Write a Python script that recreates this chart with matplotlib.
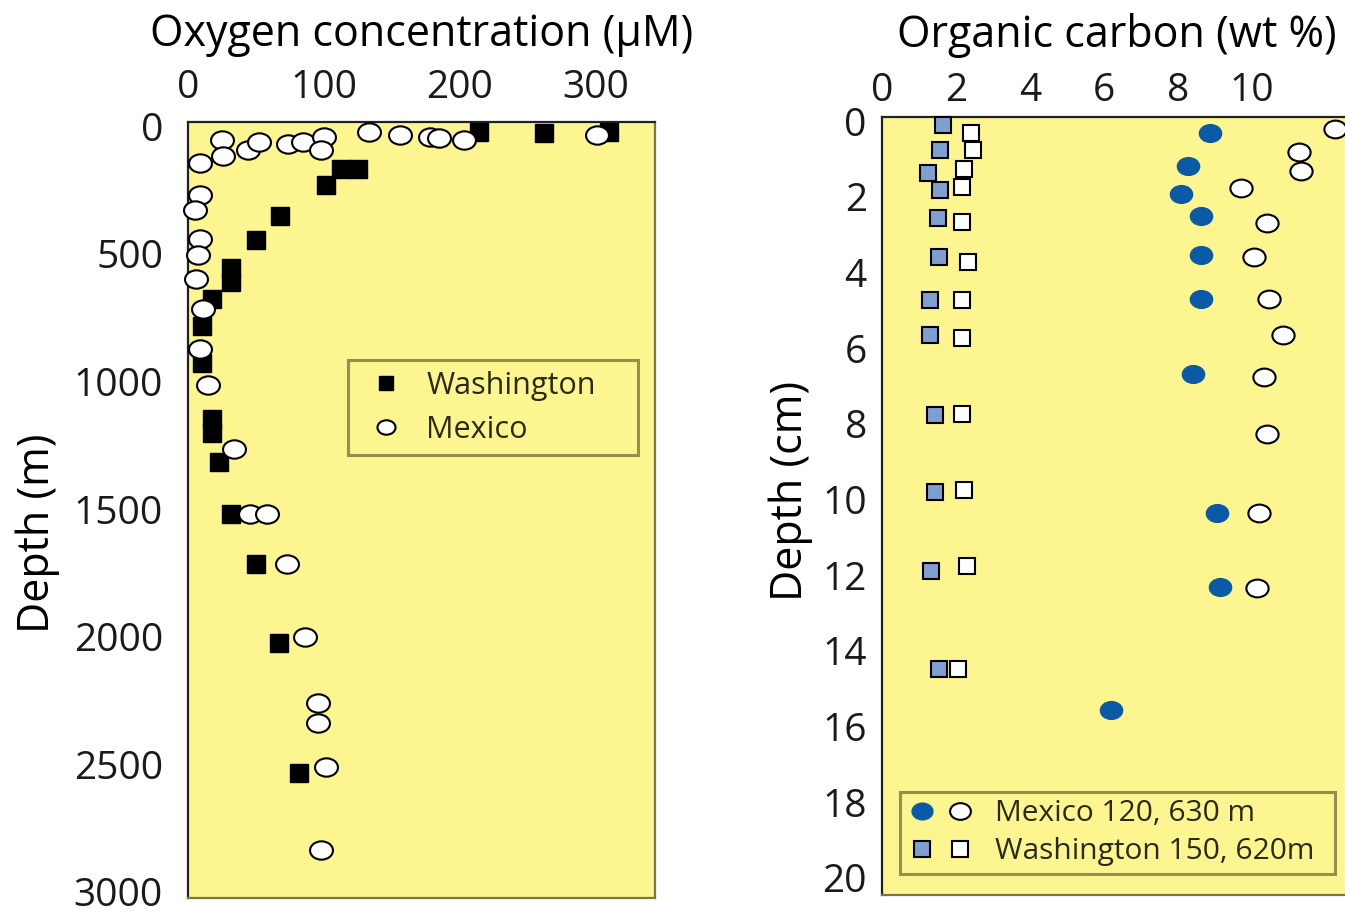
import matplotlib
matplotlib.use("Agg")
import matplotlib.pyplot as plt
import matplotlib.transforms as mtransforms
from matplotlib.path import Path
from matplotlib.lines import Line2D
from matplotlib.legend_handler import HandlerTuple

plt.rcParams['font.family'] = ['Open Sans', 'DejaVu Sans']

# --- oxygen profiles (left) ---
wa_o2 = [214, 262, 310, 125, 113, 102, 68, 50, 32, 32, 18, 10, 10, 18, 18, 23, 32, 50, 67, 82]
wa_depth = [0, 5, 0, 143, 143, 208, 329, 421, 534, 586, 652, 760, 906, 1122, 1180, 1291,
            1494, 1690, 2000, 2510]
mx_o2 = [25, 26, 9, 44, 52, 74, 85, 100, 98, 133, 156, 178, 185, 203, 301, 9, 5, 9, 7, 6,
         11, 9, 15, 34, 46, 58, 73, 86, 96, 96, 102, 98]
mx_depth = [30, 95, 120, 70, 38, 45, 38, 19, 68, 0, 12, 19, 21, 30, 10, 247, 306, 417, 482,
            574, 691, 848, 991, 1240, 1494, 1494, 1690, 1979, 2238, 2313, 2486, 2813]

# --- organic carbon (right) ---
wa150_c = [1.66, 1.57, 1.23, 1.57, 1.50, 1.55, 1.30, 1.30, 1.43, 1.43, 1.32, 1.55]
wa150_d = [0.11, 0.77, 1.38, 1.81, 2.57, 3.60, 4.73, 5.65, 7.77, 9.80, 11.9, 14.49]
wa620_c = [2.40, 2.45, 2.22, 2.15, 2.15, 2.33, 2.15, 2.15, 2.15, 2.22, 2.29, 2.04]
wa620_d = [0.31, 0.77, 1.28, 1.75, 2.66, 3.73, 4.73, 5.72, 7.74, 9.75, 11.76, 14.49]
mx120_c = [8.85, 8.28, 8.07, 8.61, 8.61, 8.61, 8.41, 9.06, 9.14, 6.18]
mx120_d = [0.31, 1.19, 1.93, 2.51, 3.54, 4.69, 6.68, 10.35, 12.32, 15.56]
mx630_c = [12.24, 11.28, 11.32, 9.69, 10.40, 10.05, 10.47, 10.83, 10.33, 10.40, 10.20, 10.13]
mx630_d = [0.22, 0.81, 1.31, 1.78, 2.69, 3.58, 4.69, 5.65, 6.77, 8.28, 10.35, 12.35]

o2_ticks = [0, 100, 200, 300]
depth_m_ticks = [0, 500, 1000, 1500, 2000, 2500, 3000]
c_ticks = [0, 2, 4, 6, 8, 10]
depth_cm_ticks = list(range(0, 21, 2))

bg = '#fdf590'
frame = '#7a7740'
blue = '#0b5aa6'
lightblue = '#7f9fd0'

# wide ellipse like the stretched circles of the original
circ = Path.unit_circle()
ell = Path(circ.vertices * [1.25, 1.0], circ.codes)

fig = plt.figure(figsize=(13.45, 9.13), dpi=100)
ax1 = fig.add_axes([0.1398, 0.01643, 0.3472, 0.85])
ax2 = fig.add_axes([0.6558, 0.01972, 0.3494, 0.8521])

for ax in (ax1, ax2):
    ax.set_facecolor(bg)
    ax.xaxis.tick_top()
    ax.xaxis.set_label_position('top')
    for side in ('top', 'left'):
        ax.spines[side].set_color('#222222')
    for side in ('right', 'bottom'):
        ax.spines[side].set_color(frame)
    for sp in ax.spines.values():
        sp.set_linewidth(1.6)
    ax.tick_params(which='major', length=0, labelsize=28, colors='#1a1a1a')

# left panel
ax1.plot(wa_o2, wa_depth, ls='none', marker='s', ms=13, mfc='black', mec='black',
         clip_on=False, zorder=3)
ax1.plot(mx_o2, mx_depth, ls='none', marker=ell, ms=16.5, mfc='white', mec='black', mew=1.5,
         clip_on=False, zorder=4)
ax1.set_xlim(0, 344)
ax1.set_ylim(3000, -40)
ax1.set_xticks(o2_ticks)
ax1.set_yticks(depth_m_ticks)
ax1.set_yticks([1000, 2000], minor=True)
ax1.tick_params(which='minor', length=12, width=2, direction='inout', color='black')
ax1.tick_params(axis='y', pad=18)
ax1.tick_params(axis='x', pad=11)
ax1.set_xlabel('Oxygen concentration (\u00b5M)', fontsize=31, labelpad=16)
ax1.set_ylabel('Depth (m)', fontsize=31)
ax1.yaxis.set_label_coords(-0.275, 0.47)
shift_up = mtransforms.ScaledTranslation(0, 6 / 100, fig.dpi_scale_trans)
for lab in ax1.get_yticklabels():
    lab.set_transform(lab.get_transform() + shift_up)

h_wa = Line2D([], [], ls='none', marker='s', ms=10, mfc='black', mec='black')
h_mx = Line2D([], [], ls='none', marker=ell, ms=13, mfc='white', mec='black', mew=1.5)
leg1 = ax1.legend([h_wa, h_mx], ['Washington', 'Mexico'], loc='center',
                  bbox_to_anchor=(0.343, 0.567, 0.621, 0.129), mode='expand',
                  fontsize=22, frameon=True, fancybox=False, borderpad=0.35,
                  labelspacing=0.45, handlelength=1.8, handletextpad=0.4,
                  borderaxespad=0)
leg1.get_frame().set_facecolor(bg)
leg1.get_frame().set_edgecolor(frame)
leg1.get_frame().set_linewidth(2.2)
for t in leg1.get_texts():
    t.set_color('#2a2a18')

# right panel
ax2.plot(wa150_c, wa150_d, ls='none', marker='s', ms=12, mfc=lightblue, mec='black', mew=1.5,
         clip_on=False, zorder=3)
ax2.plot(wa620_c, wa620_d, ls='none', marker='s', ms=12, mfc='white', mec='black', mew=1.5,
         clip_on=False, zorder=3)
ax2.plot(mx120_c, mx120_d, ls='none', marker=ell, ms=16, mfc=blue, mec=blue, mew=1,
         clip_on=False, zorder=3)
ax2.plot(mx630_c, mx630_d, ls='none', marker=ell, ms=16, mfc='white', mec='black', mew=1.5,
         clip_on=False, zorder=3)
ax2.set_xlim(0, 12.7)
ax2.set_ylim(20.45, -0.106)
ax2.set_xticks(c_ticks)
ax2.set_yticks(depth_cm_ticks)
ax2.tick_params(axis='y', pad=11)
ax2.tick_params(axis='x', pad=5)
ax2.set_xlabel('Organic carbon (wt %)', fontsize=31, labelpad=18)
ax2.set_ylabel('Depth (cm)', fontsize=31)
ax2.yaxis.set_label_coords(-0.147, 0.52)

h_m1 = Line2D([], [], ls='none', marker=ell, ms=15, mfc=blue, mec=blue)
h_m2 = Line2D([], [], ls='none', marker=ell, ms=15, mfc='white', mec='black', mew=1.5)
h_w1 = Line2D([], [], ls='none', marker='s', ms=11, mfc=lightblue, mec='black', mew=1.5)
h_w2 = Line2D([], [], ls='none', marker='s', ms=11, mfc='white', mec='black', mew=1.5)
leg2 = ax2.legend([(h_m1, h_m2), (h_w1, h_w2)],
                  ['Mexico 120, 630 m', 'Washington 150, 620m'],
                  handler_map={tuple: HandlerTuple(ndivide=None, pad=0.27)},
                  loc='center', bbox_to_anchor=(0.038, 0.023, 0.926, 0.1145), mode='expand',
                  fontsize=21.5, frameon=True, fancybox=False, borderpad=0.25,
                  labelspacing=0.3, handlelength=2.25, handletextpad=0.7,
                  borderaxespad=0)
leg2.get_frame().set_facecolor(bg)
leg2.get_frame().set_edgecolor(frame)
leg2.get_frame().set_linewidth(2.2)
for t in leg2.get_texts():
    t.set_color('#2a2a18')

fig.savefig('out.png', dpi=100)
